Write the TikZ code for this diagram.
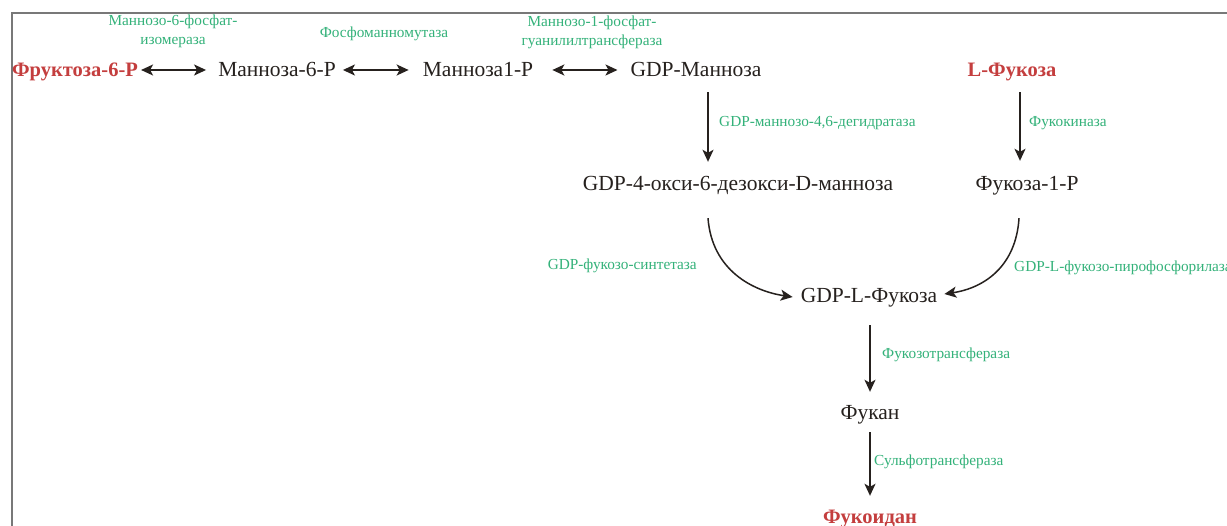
\documentclass[tikz,border=0pt]{standalone}
\usepackage{fontspec}
\setmainfont{Liberation Serif}
\usetikzlibrary{arrows.meta}
\definecolor{ink}{RGB}{38,33,30}
\definecolor{enz}{RGB}{52,178,122}
\definecolor{hl}{RGB}{196,62,62}
\definecolor{framec}{RGB}{120,120,120}
\begin{document}
\begin{tikzpicture}[x=1pt,y=-1pt,
 mol/.style={font=\fontsize{21.5}{24}\selectfont, text=ink, inner sep=0pt, text height=14pt, text depth=0pt},
 key/.style={font=\bfseries\fontsize{20.5}{24}\selectfont, text=hl, inner sep=0pt, text height=14pt, text depth=0pt},
 enzl/.style={font=\fontsize{15.3}{19}\selectfont, text=enz, inner sep=0pt, align=center},
 arr/.style={draw=ink, line width=1.5pt, -{Stealth[length=12pt,width=11pt,inset=3pt]}},
 dbl/.style={draw=ink, line width=1.7pt, {Stealth[length=12pt,width=11pt,inset=3pt]}-{Stealth[length=12pt,width=11pt,inset=3pt]}},
 framel/.style={draw=framec, line width=2.5pt}
]
\useasboundingbox (0,0) rectangle (1227,526);
\fill[white] (0,0) rectangle (1227,526);
\draw[framel] (12,528) -- (12,13) -- (1229,13);

% molecules
\node[key] (f6p) at (75,70) {Фруктоза-6-Р};
\node[mol] (m6p) at (277,70) {Манноза-6-Р};
\node[mol] (m1p) at (478,70) {Манноза1-Р};
\node[mol] (gdpm) at (696,70) {GDP-Манноза};
\node[key] (lfuc) at (1012,70) {L-Фукоза};
\node[mol] (gdpoxy) at (738,184) {GDP-4-окси-6-дезокси-D-манноза};
\node[mol] (fuc1p) at (1027,184) {Фукоза-1-Р};
\node[mol] (gdplf) at (869,296) {GDP-L-Фукоза};
\node[mol] (fucan) at (870,413) {Фукан};
\node[key] (fucoidan) at (870,516) {Фукоидан};

% enzymes
\node[enzl] (e1) at (173,31) {Маннозо-6-фосфат-\\изомераза};
\node[enzl] (e2) at (384,34) {Фосфоманномутаза};
\node[enzl] (e3) at (592,32) {Маннозо-1-фосфат-\\гуанилилтрансфераза};
\node[enzl,anchor=west] (e4) at (719,123) {GDP-маннозо-4,6-дегидратаза};
\node[enzl,anchor=west] (e5) at (1029,123) {Фукокиназа};
\node[enzl,anchor=east] (e6) at (697,266) {GDP-фукозо-синтетаза};
\node[enzl,anchor=west] (e7) at (1014,268) {GDP-L-фукозо-пирофосфорилаза};
\node[enzl,anchor=west] (e8) at (882,355) {Фукозотрансфераза};
\node[enzl,anchor=west] (e9) at (874,462) {Сульфотрансфераза};

% reactions
\draw[dbl] ([xshift=3pt]f6p.east) -- ([xshift=-12pt]m6p.west);
\draw[dbl] ([xshift=7pt]m6p.east) -- ([xshift=-14pt]m1p.west);
\draw[dbl] ([xshift=19pt]m1p.east) -- ([xshift=-13pt]gdpm.west);
\draw[arr] ([xshift=12pt,yshift=-15pt]gdpm.south) -- ([xshift=-30pt,yshift=15pt]gdpoxy.north);
\draw[arr] ([xshift=8pt,yshift=-15pt]lfuc.south) -- ([xshift=-7pt,yshift=16pt]fuc1p.north);
\draw[arr] ([xshift=-30pt,yshift=-27pt]gdpoxy.south) .. controls +(4,52) and +(-40,-6) .. ([xshift=-8pt,yshift=-1pt]gdplf.west);
\draw[arr] ([xshift=-8pt,yshift=-27pt]fuc1p.south) .. controls +(-3,48) and +(40,-6) .. ([xshift=7pt,yshift=2pt]gdplf.east);
\draw[arr] ([xshift=1pt,yshift=-22pt]gdplf.south) -- ([yshift=14pt]fucan.north);
\draw[arr] ([yshift=-12pt]fucan.south) -- ([yshift=13pt]fucoidan.north);
\end{tikzpicture}
\end{document}
